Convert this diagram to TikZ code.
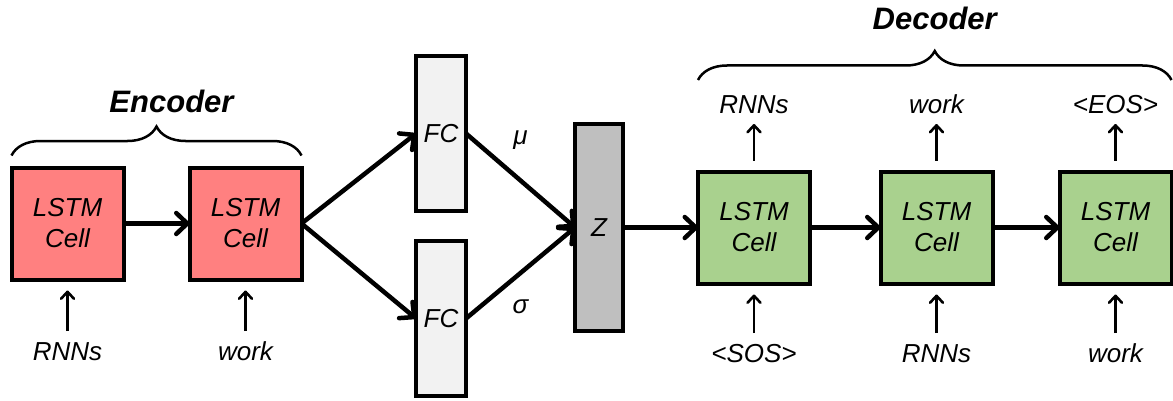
\documentclass[tikz,border=0pt]{standalone}
\usepackage{fontspec}
\setmainfont{Liberation Sans}
\usepackage{xcolor}
\usetikzlibrary{arrows.meta,positioning,decorations.pathreplacing}
\definecolor{encred}{HTML}{FF8080}
\definecolor{decgreen}{HTML}{A9D18E}
\definecolor{fcgray}{HTML}{F2F2F2}
\definecolor{zgray}{HTML}{BFBFBF}

\begin{document}
\begin{tikzpicture}[x=1pt, y=1pt, font=\fontsize{26}{31}\selectfont\itshape, every node/.style={inner sep=0pt, outer sep=0pt}]
        \tikzset{
            cell/.style={draw, line width=4pt, minimum width=112pt, minimum height=112pt, align=center},
            enc/.style={cell, fill=encred},
            dec/.style={cell, fill=decgreen},
            fc/.style={draw, line width=4pt, fill=fcgray, minimum width=50pt, minimum height=155pt},
            lat/.style={draw, line width=4pt, fill=zgray, minimum width=48pt, minimum height=207pt},
            word/.style={text height=18.6pt, text depth=0pt},
            arr/.style={-{Straight Barb[length=11pt,width=21pt,round]}, line width=4.5pt},
            tok/.style={-{Straight Barb[length=7pt,width=13pt,round]}, line width=2.6pt, shorten <=11pt, shorten >=11pt},
            grp/.style={decorate, decoration={brace, amplitude=29pt}, line width=2.5pt},
            head/.style={font=\fontsize{31}{37}\selectfont\bfseries\itshape}
        }
        \useasboundingbox (0,0) rectangle (1173,400);
        \node[enc] (enc1) at (67.5,176.5) {LSTM\\Cell};
        \node[enc, right=66pt of enc1] (enc2) {LSTM\\Cell};
        \node[fc] (fc1) at (441,266.5) {FC};
        \node[fc] (fc2) at (441,81.5) {FC};
        \node[lat] (z) at (599,172.5) {Z};
        \node[dec] (dec1) at (754,172.5) {LSTM\\Cell};
        \node[dec, right=70.5pt of dec1] (dec2) {LSTM\\Cell};
        \node[dec, right=67pt of dec2] (dec3) {LSTM\\Cell};
        \node[word, below=62.5pt of enc1] (ein1) {RNNs};
        \node[word, below=62.5pt of enc2] (ein2) {work};
        \node[word, below=60.5pt of dec1] (din1) {<SOS>};
        \node[word, below=60.5pt of dec2] (din2) {RNNs};
        \node[word, below=60.5pt of dec3] (din3) {work};
        \node[word, above=58.5pt of dec1] (dout1) {RNNs};
        \node[word, above=58.5pt of dec2] (dout2) {work};
        \node[word, above=58.5pt of dec3] (dout3) {<EOS>};
        \draw[arr] (enc1) -- (enc2);
        \draw[arr] (enc2.east) -- (fc1.west);
        \draw[arr] (enc2.east) -- (fc2.west);
        \draw[arr] (fc1.east) -- (z.west) node[midway, yshift=40pt] {μ};
        \draw[arr] (fc2.east) -- (z.west) node[midway, yshift=-34pt] {σ};
        \draw[arr] (z) -- (dec1);
        \draw[arr] (dec1) -- (dec2);
        \draw[arr] (dec2) -- (dec3);
        \draw[tok] (ein1) -- (enc1);
        \draw[tok] (ein2) -- (enc2);
        \draw[tok] (din1) -- (dec1);
        \draw[tok] (din2) -- (dec2);
        \draw[tok] (din3) -- (dec3);
        \draw[tok] (dec1) -- (dout1);
        \draw[tok] (dec2) -- (dout2);
        \draw[tok] (dec3) -- (dout3);
        \draw[grp] ([yshift=12pt]enc1.north west) -- ([yshift=12pt]enc2.north east) node[head, midway, above=43pt, xshift=15pt] {Encoder};
        \draw[grp] ([yshift=91.5pt]dec1.north west) -- ([yshift=91.5pt]dec3.north east) node[head, midway, above=50pt] {Decoder};
    \end{tikzpicture}
\end{document}
